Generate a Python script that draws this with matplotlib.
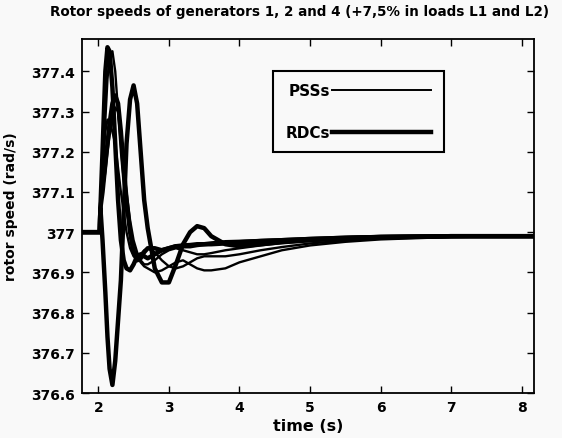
#!/usr/bin/env python3
"""Rotor speeds of generators 1, 2 and 4 -- PSSs vs RDCs after a load step."""

import matplotlib
matplotlib.use('Agg')
import matplotlib.pyplot as plt
from matplotlib.ticker import FuncFormatter

# time grid (s), shared by all traces
t = [1.77, 2.02, 2.03, 2.06, 2.10, 2.13, 2.16, 2.20, 2.24, 2.28, 2.32, 2.36,
     2.40, 2.45, 2.50, 2.55, 2.60, 2.65, 2.70, 2.80, 2.90, 3.00, 3.10, 3.20,
     3.30, 3.40, 3.50, 3.60, 3.80, 4.00, 4.30, 4.60, 5.00, 5.50, 6.00, 7.00, 8.17]

# RDC traces (thick)
rdc_a = [377.0, 377.0, 377.06, 376.98, 376.85, 376.74, 376.66, 376.62, 376.68,
         376.78, 376.88, 377.05, 377.22, 377.33, 377.365, 377.32, 377.20, 377.08,
         377.01, 376.91, 376.875, 376.875, 376.92, 376.97, 377.0, 377.015, 377.01,
         376.99, 376.97, 376.965, 376.97, 376.975, 376.98, 376.985, 376.988, 376.99, 376.99]
rdc_b = [377.0, 377.0, 377.06, 377.20, 377.40, 377.46, 377.45, 377.36, 377.22,
         377.08, 376.98, 376.93, 376.91, 376.905, 376.92, 376.94, 376.945, 376.94,
         376.935, 376.945, 376.955, 376.96, 376.965, 376.965, 376.965, 376.968, 376.97,
         376.97, 376.972, 376.975, 376.978, 376.98, 376.983, 376.986, 376.988, 376.99, 376.99]
rdc_c = [377.0, 377.0, 377.06, 377.10, 377.17, 377.22, 377.27, 377.32, 377.34,
         377.32, 377.25, 377.16, 377.08, 377.0, 376.95, 376.93, 376.935, 376.95,
         376.96, 376.96, 376.955, 376.96, 376.965, 376.967, 376.968, 376.97, 376.97,
         376.972, 376.975, 376.976, 376.978, 376.98, 376.983, 376.986, 376.988, 376.99, 376.99]

# PSS traces (thin)
pss_a = [377.0, 377.0, 377.06, 377.14, 377.28, 377.38, 377.44, 377.45, 377.40,
         377.30, 377.20, 377.12, 377.06, 377.0, 376.96, 376.94, 376.925, 376.915,
         376.91, 376.90, 376.905, 376.915, 376.925, 376.93, 376.92, 376.91, 376.905,
         376.905, 376.91, 376.925, 376.94, 376.955, 376.967, 376.976, 376.982, 376.988, 376.99]
pss_b = [377.0, 377.0, 377.06, 377.16, 377.25, 377.28, 377.27, 377.25, 377.22,
         377.16, 377.10, 377.05, 377.0, 376.96, 376.94, 376.935, 376.945, 376.955,
         376.96, 376.95, 376.93, 376.915, 376.91, 376.915, 376.925, 376.935, 376.94,
         376.94, 376.94, 376.945, 376.955, 376.963, 376.972, 376.979, 376.984, 376.988, 376.99]
pss_c = [377.0, 377.0, 377.06, 377.10, 377.15, 377.20, 377.24, 377.28, 377.31,
         377.30, 377.24, 377.17, 377.10, 377.03, 376.98, 376.95, 376.93, 376.92,
         376.92, 376.93, 376.945, 376.955, 376.96, 376.955, 376.95, 376.945, 376.945,
         376.948, 376.955, 376.96, 376.967, 376.973, 376.978, 376.982, 376.985, 376.989, 376.99]

x_ticks = [2, 3, 4, 5, 6, 7, 8]
y_ticks = [376.6, 376.7, 376.8, 376.9, 377.0, 377.1, 377.2, 377.3, 377.4]

plt.rcParams['font.family'] = ['DejaVu Sans']
plt.rcParams['font.weight'] = 'bold'

BG = '#f9f9f9'
fig = plt.figure(figsize=(5.62, 4.39), dpi=100)
fig.patch.set_facecolor(BG)
ax = fig.add_axes([0.146, 0.1025, 0.804, 0.806])
ax.set_facecolor(BG)

for y in (pss_a, pss_b, pss_c):
    ax.plot(t, y, color='black', linewidth=1.7)
for y in (rdc_a, rdc_b, rdc_c):
    ax.plot(t, y, color='black', linewidth=3.2)

# legend handles (text first, MATLAB style)
h_pss, = ax.plot([], [], color='black', linewidth=1.4, label='PSSs')
h_rdc, = ax.plot([], [], color='black', linewidth=3.2, label='RDCs')
leg = ax.legend(handles=[h_pss, h_rdc], markerfirst=False, loc='upper left',
                bbox_to_anchor=(273 / 562, 1 - 72 / 439), bbox_transform=fig.transFigure,
                borderaxespad=0, fontsize=11, handlelength=6.5, handletextpad=0.15,
                labelspacing=1.75, borderpad=0.8, fancybox=False, framealpha=1,
                facecolor=BG, edgecolor='black')
leg.get_frame().set_linewidth(1.5)
for txt in leg.get_texts():
    txt.set_fontweight('bold')

ax.set_xlim(1.77, 8.17)
ax.set_ylim(376.6, 377.48)
ax.set_xticks(x_ticks)
ax.set_yticks(y_ticks)
ax.yaxis.set_major_formatter(FuncFormatter(lambda v, p: '%g' % round(v, 1)))
ax.tick_params(direction='in', top=True, right=True, length=5, width=1,
               labelsize=10, pad=5)
for lab in ax.get_xticklabels() + ax.get_yticklabels():
    lab.set_fontweight('bold')
for sp in ax.spines.values():
    sp.set_linewidth(1.3)

ax.set_xlabel('time (s)', fontsize=11.5, fontweight='bold', labelpad=3)
ax.set_ylabel('rotor speed (rad/s)', fontsize=10, fontweight='bold')
ax.yaxis.set_label_coords(-0.142, 0.53)
fig.text(300 / 562, 1 - 12 / 439,
         'Rotor speeds of generators 1, 2 and 4 (+7,5% in loads L1 and L2)',
         fontsize=9.75, fontweight='bold', ha='center', va='center')

plt.savefig('out.png', dpi=100, facecolor=fig.get_facecolor())
